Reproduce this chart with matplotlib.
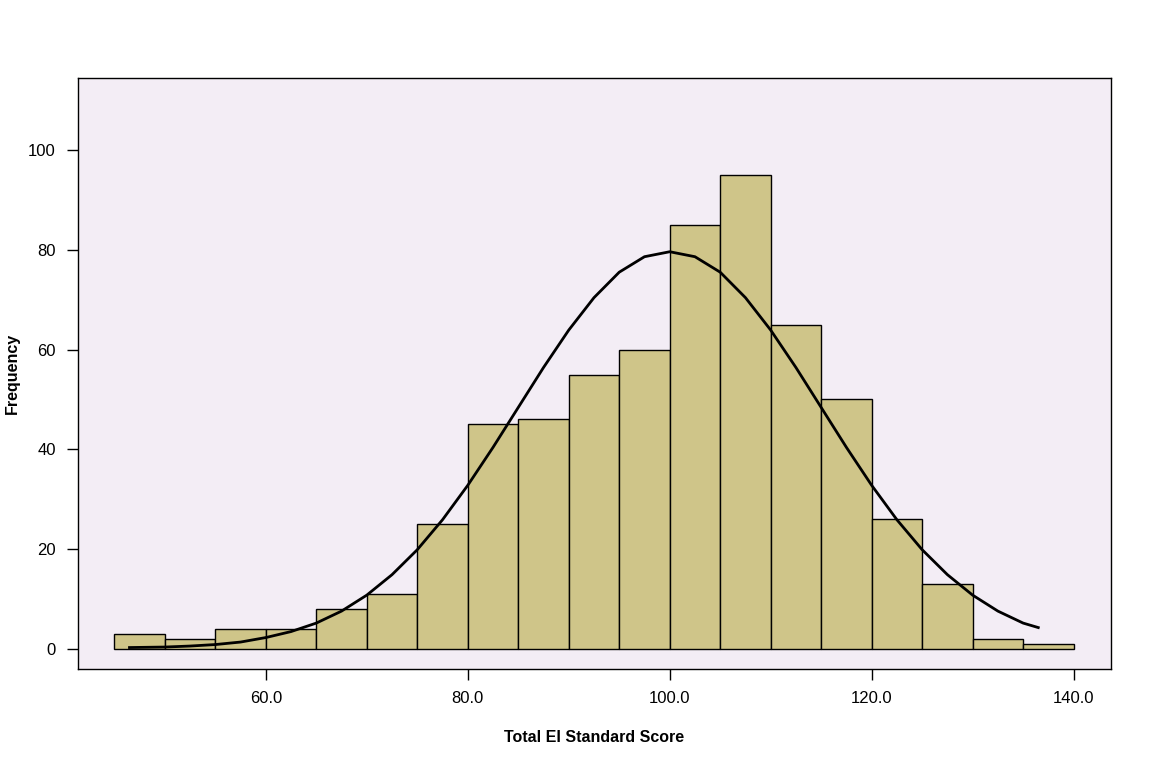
import matplotlib
matplotlib.use("Agg")
import matplotlib.pyplot as plt

plt.rcParams['font.family'] = ['Liberation Sans', 'DejaVu Sans']

# histogram bins (width 5) and counts
bin_edges = [45, 50, 55, 60, 65, 70, 75, 80, 85, 90, 95, 100, 105, 110, 115, 120, 125, 130, 135, 140]
counts = [3, 2, 4, 4, 8, 11, 25, 45, 46, 55, 60, 85, 95, 65, 50, 26, 13, 2, 1]

# normal curve
curve_x = [46.5, 50, 52.5, 55, 57.5, 60, 62.5, 65, 67.5, 70, 72.5, 75, 77.5, 80, 82.5, 85,
           87.5, 90, 92.5, 95, 97.5, 100, 102.5, 105, 107.5, 110, 112.5, 115, 117.5, 120,
           122.5, 125, 127.5, 130, 132.5, 135, 136.5]
curve_y = [0.3, 0.4, 0.6, 0.9, 1.4, 2.3, 3.5, 5.2, 7.6, 10.8, 14.9, 19.9, 25.9, 32.8, 40.4, 48.4,
           56.4, 63.9, 70.4, 75.5, 78.6, 79.6, 78.6, 75.5, 70.4, 63.9, 56.4, 48.4, 40.4, 32.8,
           25.9, 19.9, 14.9, 10.8, 7.6, 5.2, 4.3]

x_ticks = [60, 80, 100, 120, 140]
y_ticks = [0, 20, 40, 60, 80, 100]

fig = plt.figure(figsize=(11.52, 7.68), dpi=100)
ax = fig.add_axes([0.0677, 0.1289, 0.8967, 0.7695])
ax.set_facecolor('#F3EDF5')

lefts = bin_edges[:-1]
widths = [b - a for a, b in zip(bin_edges[:-1], bin_edges[1:])]
ax.bar(lefts, counts, width=widths, align='edge', color='#CFC589',
       edgecolor='black', linewidth=1.0, zorder=2)
ax.plot(curve_x, curve_y, color='black', linewidth=2.0, zorder=3)

ax.set_xlim(41.4, 143.7)
ax.set_ylim(-4.0, 114.4)
ax.set_xticks(x_ticks)
ax.set_xticklabels([f"{t:.1f}" for t in x_ticks])
ax.set_yticks(y_ticks)
ax.tick_params(direction='out', length=8, width=1, labelsize=12, pad=8)

for s in ax.spines.values():
    s.set_linewidth(1.0)

ax.set_xlabel('Total EI Standard Score', fontsize=11.5, fontweight='bold')
ax.set_ylabel('Frequency', fontsize=11.5, fontweight='bold')
ax.xaxis.set_label_coords(0.5, -0.104)
ax.yaxis.set_label_coords(-0.056, 0.5)

fig.savefig('out.png', dpi=100)
